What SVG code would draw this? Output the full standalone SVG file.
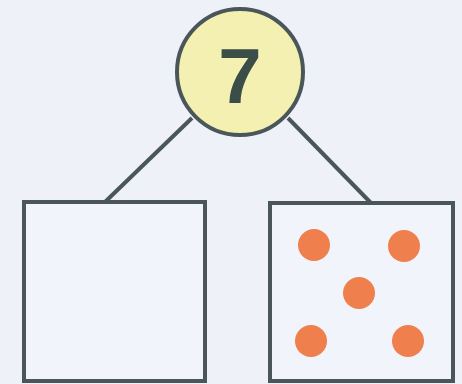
<svg xmlns="http://www.w3.org/2000/svg" width="462" height="384" viewBox="0 0 462 384">
<style>
.ln{stroke:#4a5659;stroke-width:4;fill:none}
.box{fill:#f1f4fa;stroke:#4a5659;stroke-width:4}
.dot{fill:#ef7f4c}
</style>
<rect width="462" height="384" fill="#eef2f8"/>
<g id="connectors">
<line class="ln" x1="105" y1="202" x2="192" y2="118"/>
<line class="ln" x1="371" y1="203" x2="288" y2="118"/>
</g>
<g id="top">
<circle cx="240" cy="72" r="63" fill="#f3f0b2" stroke="#4a5659" stroke-width="4"/>
<text x="240" y="103" text-anchor="middle" font-family="Liberation Sans, Arial, sans-serif" font-weight="bold" font-size="78" fill="#3b4d47">7</text>
</g>
<g id="left">
<rect class="box" x="24" y="202" width="181" height="179"/>
</g>
<g id="right">
<rect class="box" x="270" y="203" width="183" height="178"/>
<circle class="dot" cx="314" cy="245" r="16"/>
<circle class="dot" cx="404" cy="246" r="16"/>
<circle class="dot" cx="359" cy="293" r="16"/>
<circle class="dot" cx="311" cy="341" r="16"/>
<circle class="dot" cx="408" cy="341" r="16"/>
</g>
</svg>
